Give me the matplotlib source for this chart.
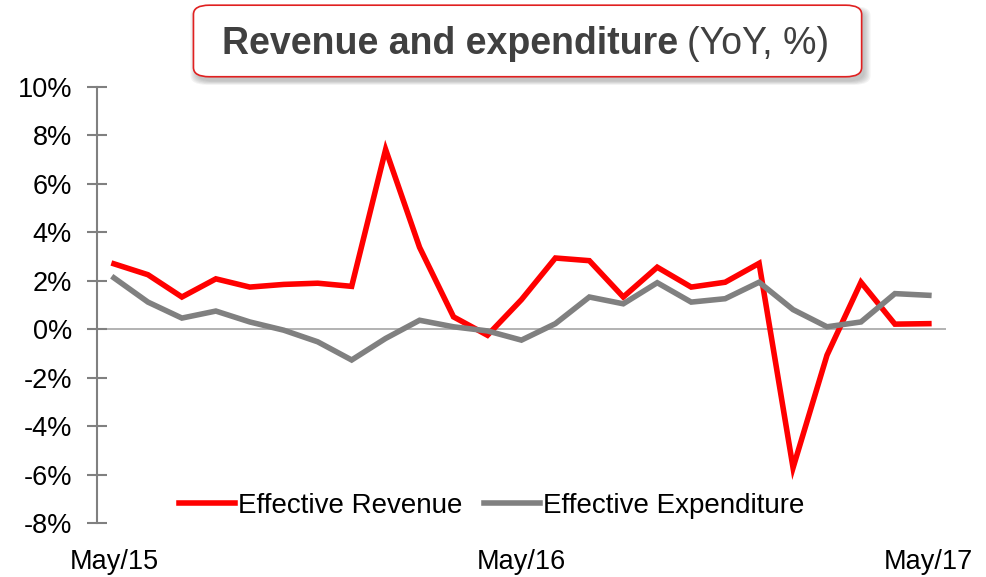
import matplotlib
matplotlib.use("Agg")
import matplotlib.pyplot as plt
from matplotlib.patches import FancyBboxPatch

plt.rcParams['font.family'] = ['Liberation Sans', 'DejaVu Sans']

# monthly data, May/15 .. May/17
months = ['May/15', 'Jun/15', 'Jul/15', 'Aug/15', 'Sep/15', 'Oct/15', 'Nov/15', 'Dec/15',
          'Jan/16', 'Feb/16', 'Mar/16', 'Apr/16', 'May/16', 'Jun/16', 'Jul/16', 'Aug/16',
          'Sep/16', 'Oct/16', 'Nov/16', 'Dec/16', 'Jan/17', 'Feb/17', 'Mar/17', 'Apr/17',
          'May/17']
revenue = [2.70, 2.25, 1.33, 2.08, 1.74, 1.85, 1.90, 1.77, 7.42, 3.38, 0.51, -0.25, 1.22,
           2.94, 2.83, 1.33, 2.56, 1.74, 1.94, 2.72, -5.72, -1.07, 1.94, 0.21, 0.23]
expenditure = [2.12, 1.12, 0.46, 0.75, 0.30, -0.04, -0.52, -1.27, -0.38, 0.37, 0.10, -0.07,
               -0.45, 0.23, 1.33, 1.05, 1.92, 1.12, 1.26, 1.94, 0.81, 0.10, 0.30, 1.47, 1.40]
tick_labels = ['May/15', 'May/16', 'May/17']

fig = plt.figure(figsize=(9.87, 5.77), dpi=100)
ax = fig.add_axes([0.0983, 0.0936, 0.860, 0.7556])

x = list(range(len(months)))
ax.plot(x, revenue, color='#ff0000', lw=4, solid_joinstyle='miter', label='Effective Revenue')
ax.plot(x, expenditure, color='#808080', lw=4, solid_joinstyle='miter', label='Effective Expenditure')
ax.axhline(0, color='#a6a6a6', lw=1.2, zorder=0)

ax.set_xlim(-0.5, len(months) - 0.5)
ax.set_ylim(-8, 10)
ax.set_yticks(range(-8, 11, 2))
ax.set_yticklabels([f'{v}%' for v in range(-8, 11, 2)], fontsize=19.5)
ax.set_xticks([months.index(t) for t in tick_labels])
ax.set_xticklabels(tick_labels, fontsize=19.5)

for s in ['top', 'right', 'bottom']:
    ax.spines[s].set_visible(False)
ax.spines['left'].set_color('#808080')
ax.spines['left'].set_linewidth(1.5)
ax.tick_params(axis='y', direction='inout', length=14, width=1.5, color='#808080', pad=11)
ax.tick_params(axis='x', length=0, pad=19)

ax.legend(loc='center', bbox_to_anchor=(0.465, 0.04), ncol=2, frameon=False, fontsize=20,
          handlelength=2.0, handletextpad=0.1, columnspacing=0.8, borderaxespad=0)

# title box with soft shadow
bx, by, bw, bh = 0.196, 0.867, 0.677, 0.124
for i in range(6):
    grow = i * 0.0012
    sh = FancyBboxPatch((bx + 0.003 - grow, by - 0.008 - grow), bw + 2 * grow, bh + 2 * grow,
                        boxstyle='round,pad=0,rounding_size=0.016', transform=fig.transFigure,
                        facecolor='#606060', edgecolor='none', alpha=0.07)
    fig.patches.append(sh)
box = FancyBboxPatch((bx, by), bw, bh, boxstyle='round,pad=0,rounding_size=0.016',
                     transform=fig.transFigure, facecolor='white', edgecolor='#e02020', lw=1.2)
fig.patches.append(box)

t1 = fig.text(0.225, 0.924, 'Revenue and expenditure', fontsize=27, fontweight='bold',
              color='#404040', ha='left', va='center')
fig.canvas.draw()
bb = t1.get_window_extent()
fig.text((bb.x1 + 9) / fig.bbox.width, 0.924, '(YoY, %)', fontsize=27, color='#404040',
         ha='left', va='center')

fig.savefig('out.png', dpi=100)
